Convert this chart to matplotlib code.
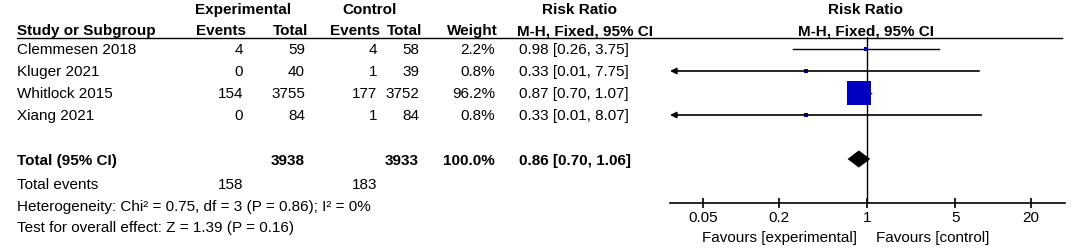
import matplotlib

matplotlib.use("Agg")
import matplotlib.pyplot as plt

# data
studies = ["Clemmesen 2018", "Kluger 2021", "Whitlock 2015", "Xiang 2021"]
exp_events = [4, 0, 154, 0]
exp_total = [59, 40, 3755, 84]
ctrl_events = [4, 1, 177, 1]
ctrl_total = [58, 39, 3752, 84]
weights = [2.2, 0.8, 96.2, 0.8]
rr = [0.98, 0.33, 0.87, 0.33]
ci_lo = [0.26, 0.01, 0.70, 0.01]
ci_hi = [3.75, 7.75, 1.07, 8.07]

total_exp, total_ctrl = 3938, 3933
total_rr, total_lo, total_hi = 0.86, 0.70, 1.06
events_exp, events_ctrl = 158, 183
heterogeneity = "Heterogeneity: Chi² = 0.75, df = 3 (P = 0.86); I² = 0%"
overall = "Test for overall effect: Z = 1.39 (P = 0.16)"

tick_vals = [0.05, 0.2, 1, 5, 20]
tick_labels = ["0.05", "0.2", "1", "5", "20"]

plt.rcParams["font.family"] = ["Liberation Sans", "DejaVu Sans"]
FS = 11
BLUE = "#0000C0"

W, H = 1084, 252
fig = plt.figure(figsize=(W / 100, H / 100), dpi=100)

# text layer in pixel coordinates
tx = fig.add_axes([0, 0, 1, 1])
tx.set_xlim(0, W)
tx.set_ylim(H, 0)
tx.axis("off")


def put(x, y, s, ha="left", bold=False):
    tx.text(x, y, s, ha=ha, va="baseline", fontsize=FS,
            fontweight="bold" if bold else "normal")


cols = [243, 305, 377, 419, 495]
rr_left = 519

# headers
put(243, 14, "Experimental", ha="center", bold=True)
put(370, 14, "Control", ha="center", bold=True)
put(580, 14, "Risk Ratio", ha="center", bold=True)
put(866, 14, "Risk Ratio", ha="center", bold=True)
put(17, 35, "Study or Subgroup", bold=True)
for x, s in zip(cols, ["Events", "Total", "Events", "Total", "Weight"]):
    put(x + 3, 35, s, ha="right", bold=True)
put(rr_left - 2, 35, "M-H, Fixed, 95% CI", bold=True)
put(866, 35, "M-H, Fixed, 95% CI", ha="center", bold=True)
tx.plot([17, 1062], [37.5, 37.5], color="black", lw=1.0)

# study rows
for i, name in enumerate(studies):
    y = 54 + 22 * i
    put(17, y, name)
    vals = [exp_events[i], exp_total[i], ctrl_events[i], ctrl_total[i],
            f"{weights[i]:.1f}%"]
    for x, v in zip(cols, vals):
        put(x, y, str(v), ha="right")
    put(rr_left, y, f"{rr[i]:.2f} [{ci_lo[i]:.2f}, {ci_hi[i]:.2f}]")

# total rows
put(17, 165, "Total (95% CI)", bold=True)
put(cols[1], 165, str(total_exp), ha="right", bold=True)
put(cols[3], 165, str(total_ctrl), ha="right", bold=True)
put(cols[4], 165, "100.0%", ha="right", bold=True)
put(rr_left, 165, f"{total_rr:.2f} [{total_lo:.2f}, {total_hi:.2f}]", bold=True)
put(17, 189, "Total events")
put(cols[0], 189, str(events_exp), ha="right")
put(cols[2], 189, str(events_ctrl), ha="right")
put(17, 211, heterogeneity)
put(17, 232, overall)
put(857, 242, "Favours [experimental]", ha="right")
put(876, 242, "Favours [control]")

# forest panel
x0, x1, ytop, ybot = 670, 1065, 37, 203
ax = fig.add_axes([x0 / W, 1 - ybot / H, (x1 - x0) / W, (ybot - ytop) / H])
ax.patch.set_alpha(0)
ax.set_xscale("log")
xmin, xmax = 0.0273, 37.2
ax.set_xlim(xmin, xmax)
ax.set_ylim(7.0, -0.545)
for s in ["top", "left", "right"]:
    ax.spines[s].set_visible(False)
ax.spines["bottom"].set_linewidth(1.2)
ax.set_yticks([])
ax.set_xticks(tick_vals)
ax.set_xticklabels(tick_labels)
ax.minorticks_off()
ax.tick_params(axis="x", direction="inout", length=7, width=1.2, pad=2,
               labelsize=FS)
ax.axvline(1, color="black", lw=1.0)

max_w = max(weights)
for i in range(len(studies)):
    lo, hi = ci_lo[i], ci_hi[i]
    if lo < xmin:
        ax.annotate("", xy=(xmin, i), xytext=(hi, i),
                    arrowprops=dict(arrowstyle="-|>", color="black", lw=1.2,
                                    mutation_scale=9, shrinkA=0, shrinkB=0))
    else:
        ax.plot([lo, hi], [i, i], color="black", lw=1.0)
    size = max(17 * (weights[i] / max_w) ** 0.5, 2.2)
    ax.plot(rr[i], i, marker="s", color=BLUE, mec=BLUE, mew=0, ms=size)

# summary diamond
h = 0.39
ax.fill([total_lo, total_rr, total_hi, total_rr], [5, 5 - h, 5, 5 + h],
        color="black", lw=0)

fig.savefig("out.png", dpi=100)
